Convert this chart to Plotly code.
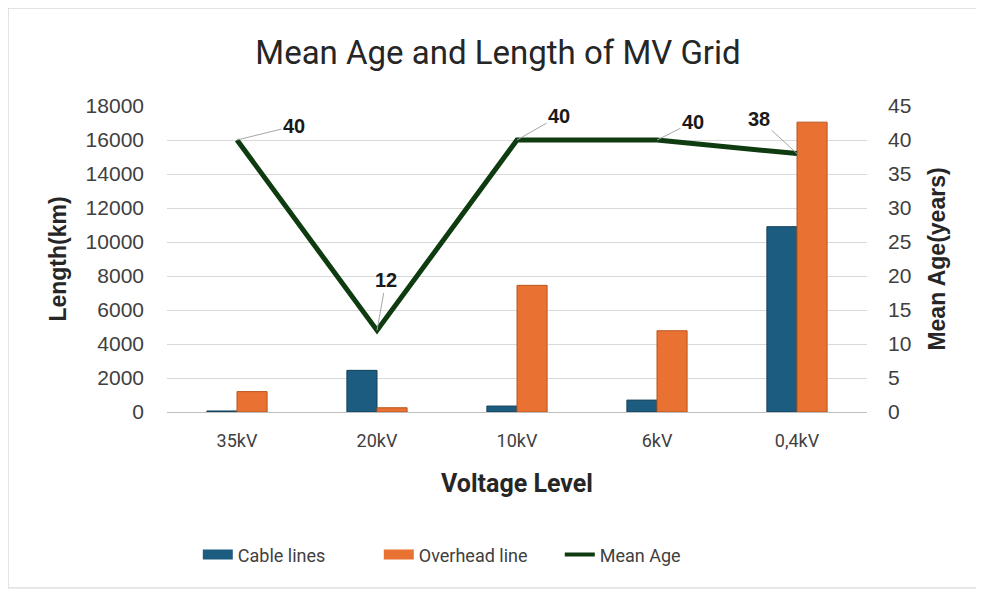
import plotly.graph_objects as go

# data
levels = ["35kV", "20kV", "10kV", "6kV", "0,4kV"]
cable_km = [60, 2450, 350, 700, 10900]
overhead_km = [1200, 250, 7450, 4780, 17050]
mean_age = [40, 12, 40, 40, 38]

ARIAL = "Liberation Sans, Arial"
ROBOTO = "Roboto, Arial"
CABLE = "#1C5C80"
OVER = "#E97132"
AGE = "#0E3B10"

fig = go.Figure()

fig.add_trace(go.Bar(
    x=levels, y=cable_km, name="Cable lines", showlegend=False,
    marker=dict(color=CABLE, line=dict(color="#123f59", width=1)),
))
fig.add_trace(go.Bar(
    x=levels, y=overhead_km, name="Overhead line", showlegend=False,
    marker=dict(color=OVER, line=dict(color="#b9561f", width=1)),
))
fig.add_trace(go.Scatter(
    x=levels, y=mean_age, name="Mean Age", yaxis="y2", showlegend=False,
    mode="lines", line=dict(color=AGE, width=5),
))

# legend entries drawn as wide swatches like the original
for name, col, w in [("Cable lines", CABLE, 10), ("Overhead line", OVER, 10), ("Mean Age", AGE, 4)]:
    fig.add_trace(go.Scatter(x=[None], y=[None], name=name, mode="lines",
                             line=dict(color=col, width=w), hoverinfo="skip"))

# data labels with leader lines (offsets in px)
offsets = [(57, -14), (9, -50), (42, -24), (36, -18), (-38, -35)]
for lvl, age, (ax, ay) in zip(levels, mean_age, offsets):
    fig.add_annotation(
        x=lvl, y=age, xref="x", yref="y2", text="<b>%d</b>" % age,
        showarrow=True, arrowhead=0, arrowwidth=1, arrowcolor="#a6a6a6",
        ax=ax, ay=ay, standoff=0,
        font=dict(family=ARIAL, size=20, color="#1a1a1a"),
    )

fig.update_layout(
    width=984, height=592,
    margin=dict(l=159, r=125, t=98, b=188),
    paper_bgcolor="white", plot_bgcolor="white",
    font=dict(family=ROBOTO, size=17, color="#404040"),
    title=dict(text="Mean Age and Length of MV Grid", x=0.498, xanchor="center",
               y=0.925, yanchor="middle",
               font=dict(family=ROBOTO, size=33, color="#262626")),
    barmode="group", bargap=0.57, bargroupgap=0,
    showlegend=True,
    legend=dict(orientation="h", x=0.044, xanchor="left", y=-0.467, yanchor="middle",
                font=dict(family=ROBOTO, size=18, color="#404040"),
                entrywidth=136, traceorder="normal"),
    xaxis=dict(
        title=dict(text="<b>Voltage Level</b>", font=dict(family=ROBOTO, size=25, color="#262626"),
                   standoff=24),
        showline=True, linecolor="#bfbfbf", ticks="", tickfont=dict(family=ROBOTO, size=18),
        ticklabelstandoff=12,
    ),
    yaxis=dict(
        title=dict(text="<b>Length(km)</b>", font=dict(family=ARIAL, size=23, color="#262626"),
                   standoff=12),
        range=[0, 18000], dtick=2000, tickformat="d", showgrid=True, gridcolor="#d9d9d9",
        zeroline=False, ticks="", tickfont=dict(family=ARIAL, size=21), ticklabelstandoff=22,
    ),
    yaxis2=dict(
        title=dict(text="<b>Mean Age(years)</b>", font=dict(family=ARIAL, size=23, color="#262626"),
                   standoff=18),
        overlaying="y", side="right", range=[0, 45], dtick=5,
        showgrid=False, zeroline=False, ticks="", tickfont=dict(family=ARIAL, size=21),
        ticklabelstandoff=20,
    ),
)

# outer chart border
fig.add_shape(type="rect", xref="paper", yref="paper",
              x0=-0.227, x1=1.159, y0=-0.575, y1=1.32,
              line=dict(color="#d0d0d0", width=1), layer="below")

fig.write_html("out.html")
